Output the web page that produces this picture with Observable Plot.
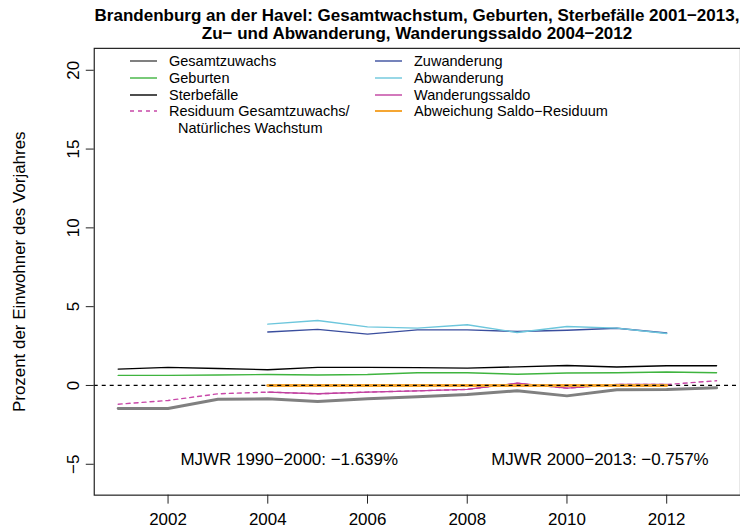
<!DOCTYPE html>
<html><head><meta charset="utf-8">
<script src="https://cdn.jsdelivr.net/npm/d3@7"></script>
<script src="https://cdn.jsdelivr.net/npm/@observablehq/plot@0.6"></script>
<style>
html,body{margin:0;padding:0;overflow:hidden;background:#fff;}
#wrap{position:relative;width:740px;height:531px;overflow:hidden;font-family:"Liberation Sans",Arial,sans-serif;}
#chart{position:absolute;left:0;top:0;}
#title{position:absolute;left:0;top:7px;width:834px;text-align:center;font-weight:bold;font-size:17px;line-height:18px;color:#000;white-space:nowrap;}
.lt{position:absolute;font-size:14.5px;line-height:16px;color:#000;white-space:nowrap;}
.sw{position:absolute;}
</style></head>
<body>
<div id="wrap">
  <div id="chart"></div>
  <div id="title">Brandenburg an der Havel: Gesamtwachstum, Geburten, Sterbefälle 2001−2013,<br>Zu− und Abwanderung, Wanderungssaldo 2004−2012</div>
  <div id="legend"></div>
</div>
<script>
// ---- data (percent of previous year's population) ----
const years = [2001,2002,2003,2004,2005,2006,2007,2008,2009,2010,2011,2012,2013];
const gesamtzuwachs = [-1.46,-1.46,-0.87,-0.85,-1.02,-0.85,-0.72,-0.57,-0.34,-0.66,-0.27,-0.25,-0.15];
const geburten      = [0.64,0.64,0.66,0.70,0.66,0.70,0.81,0.81,0.71,0.79,0.81,0.85,0.81];
const sterbefaelle  = [1.04,1.15,1.08,1.00,1.15,1.15,1.13,1.10,1.18,1.27,1.17,1.25,1.25];
const residuum      = [-1.19,-0.95,-0.53,-0.42,-0.53,-0.42,-0.34,-0.25,0.14,-0.17,0.06,0.06,0.30];

const migYears = [2004,2005,2006,2007,2008,2009,2010,2011,2012];
const zuwanderung      = [3.39,3.56,3.26,3.53,3.53,3.42,3.50,3.63,3.33];
const abwanderung      = [3.89,4.12,3.72,3.64,3.85,3.36,3.74,3.64,3.30];
const wanderungssaldo  = [-0.42,-0.53,-0.42,-0.34,-0.25,0.14,-0.17,0.06,0.06];
const abweichung       = [0,0,0,0,0,0,0,0,0];

const xTicks = [2002,2004,2006,2008,2010,2012];
const yTicks = [-5,0,5,10,15,20];

const annotations = [
  {x: 2004.43, y: -4.7, label: "MJWR 1990−2000: −1.639%"},
  {x: 2010.66, y: -4.7, label: "MJWR 2000−2013: −0.757%"}
];
const yLabel = "Prozent der Einwohner des Vorjahres";

const series = [
  {name: "Gesamtzuwachs", x: years, y: gesamtzuwachs, color: "#808080", width: 3, dash: null},
  {name: "Geburten", x: years, y: geburten, color: "#3fb43f", width: 1.4, dash: null},
  {name: "Sterbefälle", x: years, y: sterbefaelle, color: "#000000", width: 1.4, dash: null},
  {name: "Residuum Gesamtzuwachs/\nNatürliches Wachstum", x: years, y: residuum, color: "#c848a8", width: 1.4, dash: "4,4"},
  {name: "Zuwanderung", x: migYears, y: zuwanderung, color: "#3a4e9e", width: 1.4, dash: null},
  {name: "Abwanderung", x: migYears, y: abwanderung, color: "#6cc6dc", width: 1.4, dash: null},
  {name: "Wanderungssaldo", x: migYears, y: wanderungssaldo, color: "#c0409f", width: 1.4, dash: null},
  {name: "Abweichung Saldo−Residuum", x: migYears, y: abweichung, color: "#f5a633", width: 3, dash: null}
];

const fmt = d => d < 0 ? "−" + Math.abs(d) : String(d);

const lineMarks = series.map(s => {
  const rows = s.x.map((yr, i) => ({year: yr, value: s.y[i]}));
  return Plot.line(rows, {x: "year", y: "value", stroke: s.color, strokeWidth: s.width,
    strokeDasharray: s.dash || undefined});
});

const chart = Plot.plot({
  width: 742, height: 531,
  marginLeft: 94, marginRight: 0, marginTop: 48, marginBottom: 35,
  x: {domain: [2000.52, 2013.48], label: null},
  y: {domain: [-6.96, 21.39], label: null},
  style: {fontFamily: "'Liberation Sans', Arial, sans-serif", fontSize: "17px", color: "#000", background: "#fff"},
  marks: [
    ...lineMarks,
    Plot.ruleY([0], {stroke: "#000", strokeDasharray: "4,4", strokeWidth: 1.2}),
    Plot.frame({stroke: "#222", strokeWidth: 1.2}),
    Plot.axisX(xTicks, {tickSize: 9, tickPadding: 9, tickFormat: d => String(d), fontSize: 17, label: null, stroke: "#222"}),
    Plot.axisY(yTicks, {tickSize: 8, tickFormat: () => "", label: null, stroke: "#222"}),
    Plot.text(yTicks, {y: d => d, text: fmt, frameAnchor: "left", dx: -21, rotate: -90,
      textAnchor: "middle", lineAnchor: "middle", fontSize: 17}),
    Plot.text([yLabel], {text: d => d, frameAnchor: "left", dx: -75, rotate: -90,
      textAnchor: "middle", lineAnchor: "middle", fontSize: 17}),
    Plot.text(annotations, {x: "x", y: "y", text: "label", fontSize: 17, textAnchor: "middle", lineAnchor: "middle"})
  ]
});
document.getElementById("chart").appendChild(chart);

// ---- legend (two columns, overlaid in the top-left of the plot box) ----
const legend = document.getElementById("legend");
const colX = [130, 375];
const rowY = [61.3, 78, 94.7, 111.3];
const order = [[0,0,0],[1,0,1],[2,0,2],[3,0,3],[4,1,0],[5,1,1],[6,1,2],[7,1,3]];
order.forEach(([si, c, r]) => {
  const s = series[si];
  const cy = rowY[r];
  const sw = document.createElementNS("http://www.w3.org/2000/svg", "svg");
  sw.setAttribute("class", "sw");
  sw.setAttribute("width", 28); sw.setAttribute("height", 6);
  sw.style.left = colX[c] + "px"; sw.style.top = (cy - 3) + "px";
  const ln = document.createElementNS("http://www.w3.org/2000/svg", "line");
  ln.setAttribute("x1", 0); ln.setAttribute("x2", 27); ln.setAttribute("y1", 3); ln.setAttribute("y2", 3);
  ln.setAttribute("stroke", s.color);
  ln.setAttribute("stroke-width", Math.min(s.width, 2));
  if (s.dash) ln.setAttribute("stroke-dasharray", s.dash);
  sw.appendChild(ln);
  legend.appendChild(sw);
  const parts = s.name.split("\n");
  parts.forEach((p, k) => {
    const t = document.createElement("div");
    t.className = "lt";
    t.textContent = p;
    t.style.left = (colX[c] + 39 + (k > 0 ? 9 : 0)) + "px";
    t.style.top = (cy - 8 + k * 16.7) + "px";
    legend.appendChild(t);
  });
});
</script>
</body></html>
